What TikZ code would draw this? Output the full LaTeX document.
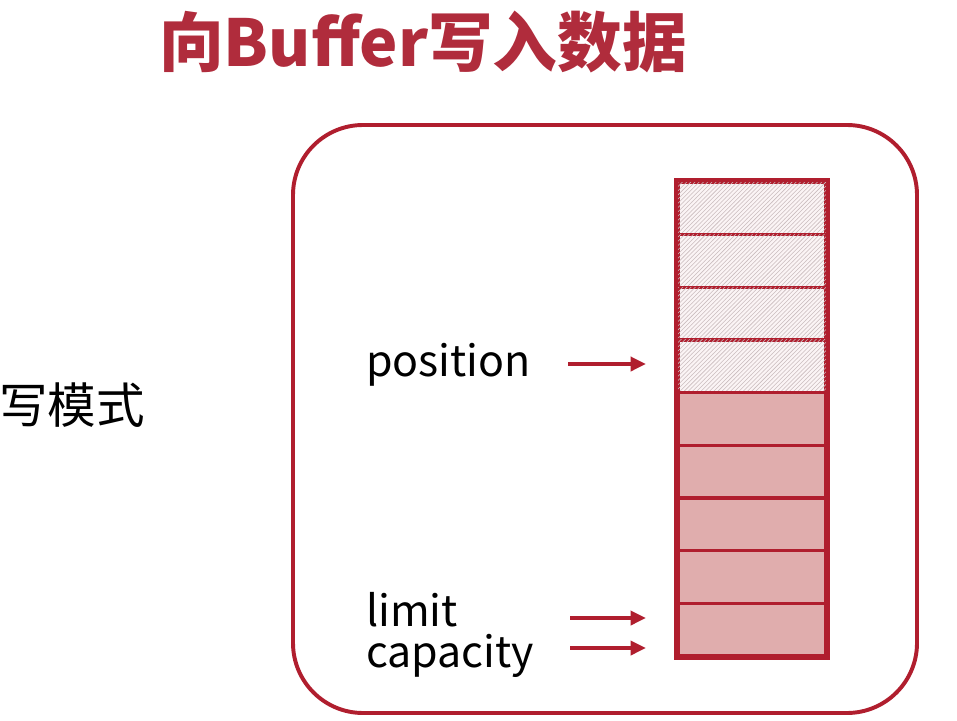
\documentclass[tikz,border=0pt]{standalone}
\usepackage{fontspec}
\setmainfont{Noto Sans CJK SC}
\usepackage{xcolor}
\usetikzlibrary{arrows.meta, positioning, patterns}
\definecolor{rojo}{HTML}{B01E2E}
\definecolor{rosa}{HTML}{E0ADAD}
\definecolor{titulo}{HTML}{B02C3C}

\begin{document}
\begin{tikzpicture}[x=0.025cm, y=-0.025cm, >={Triangle[length=11pt, width=10pt]}]
    \useasboundingbox (0,0) rectangle (957,721);
    \tikzset{
        celda/.style={draw=rojo, line width=2.4pt, minimum width=3.7cm, minimum height=1.317cm, inner sep=0pt},
        vacia/.style={celda, fill=rojo!5, postaction={pattern=north east lines, pattern color=rojo!22!gray!45}},
        llena/.style={celda, fill=rosa},
        etiqueta/.style={anchor=west, inner sep=0pt, font=\fontsize{30.5}{32}\selectfont},
        flecha/.style={->, rojo, line width=2.6pt}
    }

    % Título
    \node[titulo, font=\fontsize{46}{50}\selectfont\bfseries] (titulo) at (423,42) {向Buffer写入数据};
    \node[font=\fontsize{34.5}{36}\selectfont] (modo) at (72,405) {写模式};

    % Marco redondeado
    \draw[rojo, line width=2.8pt, rounded corners=1.75cm] (293,125) rectangle (917,713);

    % Celdas del buffer
    \foreach \i in {0,...,3}
        \node[vacia] (c\i) at (752,{208.3+\i*52.67}) {};
    \foreach \i in {4,...,8}
        \node[llena] (c\i) at (752,{208.3+\i*52.67}) {};
    \draw[rojo, line width=3pt] (c0.north west) rectangle (c8.south east);

    % Etiquetas
    \node[etiqueta] (pos) at (366,365) {position};
    \node[etiqueta] (lim) at (366,610) {limit};
    \node[etiqueta] (cap) at (366,656) {capacity};

    % Flechas
    \coordinate (p1) at (568,364);
    \coordinate (p2) at (646,364);
    \coordinate (l1) at (570,618);
    \coordinate (l2) at (646,618);
    \coordinate (k1) at (570,648);
    \coordinate (k2) at (646,648);
    \draw[flecha] (p1) -- (p2);
    \draw[flecha] (l1) -- (l2);
    \draw[flecha] (k1) -- (k2);
\end{tikzpicture}
\end{document}
